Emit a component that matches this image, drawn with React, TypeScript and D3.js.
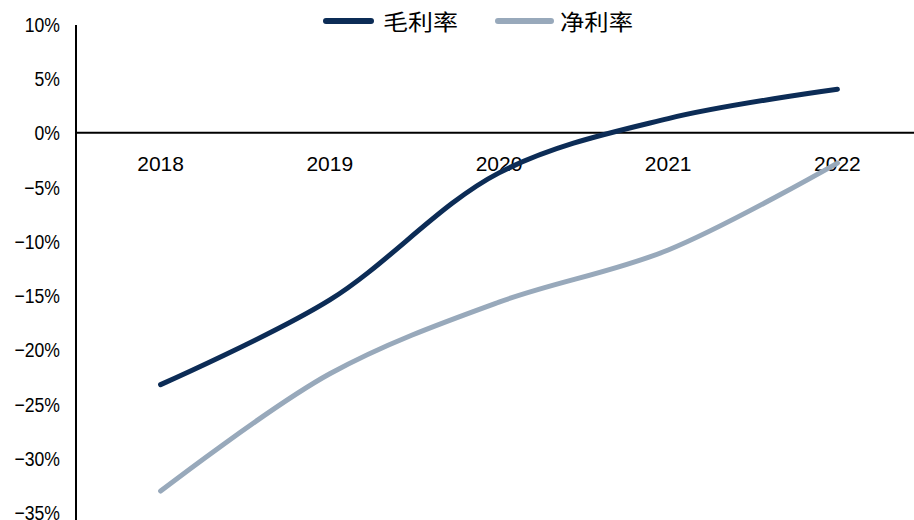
import React from "react";
import * as d3 from "d3";

const years = ["2018", "2019", "2020", "2021", "2022"];
const grossMargin = [-23.2, -15.4, -3.7, 1.3, 4.0];
const netMargin = [-33.0, -22.2, -15.6, -10.8, -2.8];
const yTicks = [10, 5, 0, -5, -10, -15, -20, -25, -30, -35];

const W = 914;
const H = 520;
const GROSS_COLOR = "#0c2c56";
const NET_COLOR = "#98a9bb";

export default function App() {
  const x = d3.scaleBand<string>().domain(years).range([76, 922]).padding(0);
  const y = d3.scaleLinear().domain([-35, 10]).range([512.8, 24.1]);
  const cx = (d: string) => (x(d) as number) + x.bandwidth() / 2;

  const line = d3
    .line<number>()
    .x((_, i) => cx(years[i]))
    .y((v) => y(v))
    .curve(d3.curveCatmullRom.alpha(0.5));

  const tickFont = "'Liberation Sans', Arial, sans-serif";
  const catFont = "'Liberation Sans', Arial, sans-serif";
  const cjkFont = "'Noto Sans CJK SC', 'Noto Sans', sans-serif";

  return (
    <svg
      width={W}
      height={H}
      style={{ position: "absolute", left: 0, top: 0, background: "#fff" }}
    >
      {/* y axis labels */}
      {yTicks.map((t) => (
        <g key={t} transform={`translate(60,${y(t)}) scale(0.84,1)`}>
          <text
            x={0}
            y={0}
            dy="0.36em"
            textAnchor="end"
            fontFamily={tickFont}
            fontSize={21}
            fill="#000"
          >
            {t < 0 ? `\u2212${Math.abs(t)}%` : `${t}%`}
          </text>
        </g>
      ))}
      {/* y axis line */}
      <line x1={76} x2={76} y1={25} y2={H} stroke="#000" strokeWidth={2} />
      {/* zero line */}
      <line x1={76} x2={W} y1={y(0)} y2={y(0)} stroke="#000" strokeWidth={2} />
      {/* category labels */}
      {years.map((yr) => (
        <text
          key={yr}
          x={cx(yr)}
          y={171}
          textAnchor="middle"
          fontFamily={catFont}
          fontSize={21}
          fill="#000"
        >
          {yr}
        </text>
      ))}
      {/* lines */}
      <path
        d={line(netMargin) || ""}
        fill="none"
        stroke={NET_COLOR}
        strokeWidth={5}
        strokeLinecap="round"
        strokeLinejoin="round"
      />
      <path
        d={line(grossMargin) || ""}
        fill="none"
        stroke={GROSS_COLOR}
        strokeWidth={5}
        strokeLinecap="round"
        strokeLinejoin="round"
      />
      {/* legend */}
      <g>
        <line x1={326} x2={371} y1={21} y2={21} stroke={GROSS_COLOR} strokeWidth={6} strokeLinecap="round" />
        <text x={383} y={30} fontFamily={cjkFont} fontSize={22} fill="#000" textLength={75} lengthAdjust="spacingAndGlyphs">
          毛利率
        </text>
        <line x1={498} x2={551} y1={21} y2={21} stroke={NET_COLOR} strokeWidth={6} strokeLinecap="round" />
        <text x={560} y={30} fontFamily={cjkFont} fontSize={22} fill="#000" textLength={73} lengthAdjust="spacingAndGlyphs">
          净利率
        </text>
      </g>
    </svg>
  );
}
